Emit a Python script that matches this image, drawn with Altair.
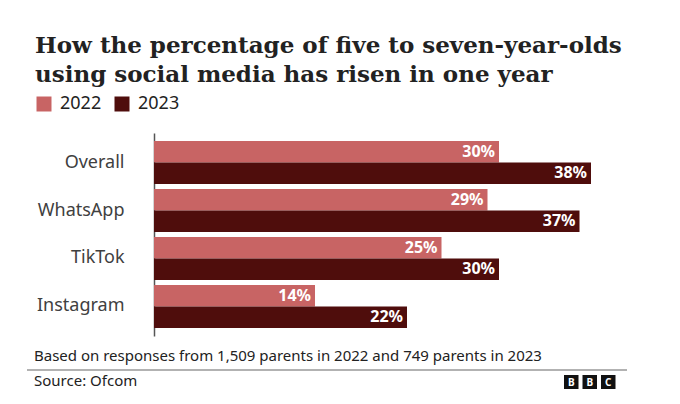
import altair as alt
import pandas as pd

platforms = ["Overall", "WhatsApp", "TikTok", "Instagram"]
years = ["2022", "2023"]
values_2022 = [30, 29, 25, 14]
values_2023 = [38, 37, 30, 22]
colors = ["#c86464", "#4f0d0c"]

title_lines = [
    "How the percentage of five to seven-year-olds",
    "using social media has risen in one year",
]
note = "Based on responses from 1,509 parents in 2022 and 749 parents in 2023"
source = "Source: Ofcom"
logo_letters = ["B", "B", "C"]

rows = []
for p, a, b in zip(platforms, values_2022, values_2023):
    rows.append({"platform": p, "year": "2022", "value": a, "label": f"{a}%"})
    rows.append({"platform": p, "year": "2023", "value": b, "label": f"{b}%"})
df = pd.DataFrame(rows)

W, H = 460, 203
SANS = "Noto Sans"

base = alt.Chart(df).encode(
    y=alt.Y(
        "platform:N",
        sort=platforms,
        scale=alt.Scale(paddingInner=0.104, paddingOuter=0.167),
        axis=alt.Axis(
            title=None, ticks=False, labelFontSize=18, labelFont=SANS,
            labelColor="#404040", labelPadding=30, domainColor="#555555",
            domainWidth=1.5, labelLimit=200, grid=False,
        ),
    ),
    yOffset=alt.YOffset("year:N", sort=years),
)

bars = base.mark_bar().encode(
    x=alt.X("value:Q", scale=alt.Scale(domain=[0, 40]), axis=None),
    color=alt.Color(
        "year:N",
        sort=years,
        scale=alt.Scale(domain=years, range=colors),
        legend=alt.Legend(
            orient="none", legendX=-119, legendY=-38, direction="horizontal",
            title=None, symbolType="square", symbolSize=225, symbolStrokeWidth=0,
            symbolOpacity=1, labelFontSize=18, labelFont=SANS, labelColor="#222222",
            labelOffset=7, columnPadding=11,
        ),
    ),
)

labels = base.mark_text(
    align="right", baseline="middle", dx=-4, color="white",
    font=SANS, fontWeight="bold", fontSize=16,
).encode(x=alt.X("value:Q"), text="label:N")

one = pd.DataFrame({"k": [0]})

def text_layer(txt, x, y, **kw):
    return alt.Chart(one).mark_text(align="left", **kw).encode(
        x=alt.value(x), y=alt.value(y), text=alt.value(txt)
    )

title1 = text_layer(title_lines[0], -119, -80, baseline="alphabetic",
                    font="DejaVu Serif", fontWeight="bold", fontSize=23, color="#222222")
title2 = text_layer(title_lines[1], -119, -51, baseline="alphabetic",
                    font="DejaVu Serif", fontWeight="bold", fontSize=23, color="#222222")
note_t = text_layer(note, -120, 223, baseline="middle", font=SANS, fontSize=15, color="#222222")
source_t = text_layer(source, -120, 248, baseline="middle", font=SANS, fontSize=15, color="#222222")
rule = alt.Chart(one).mark_rule(color="#999999", strokeWidth=1.5).encode(
    x=alt.value(-127), x2=alt.value(473), y=alt.value(237)
)

logo_layers = []
for i, letter in enumerate(logo_letters):
    x0 = 410 + i * 18.5
    logo_layers.append(
        alt.Chart(one).mark_rect(color="#111111").encode(
            x=alt.value(x0), x2=alt.value(x0 + 14.5), y=alt.value(242), y2=alt.value(256)
        )
    )
    logo_layers.append(
        alt.Chart(one).mark_text(
            align="center", baseline="middle", color="white", font=SANS,
            fontWeight="bold", fontSize=10,
        ).encode(x=alt.value(x0 + 7.25), y=alt.value(249.5), text=alt.value(letter))
    )

chart = alt.layer(
    bars, labels, title1, title2, note_t, source_t, rule, *logo_layers
).properties(
    width=W, height=H,
    autosize=alt.AutoSizeParams(type="none"),
    padding={"left": 146, "top": 125, "right": 58, "bottom": 60},
).configure_view(stroke=None)

chart.save("out.html", embed_options={"renderer": "svg", "actions": False})
